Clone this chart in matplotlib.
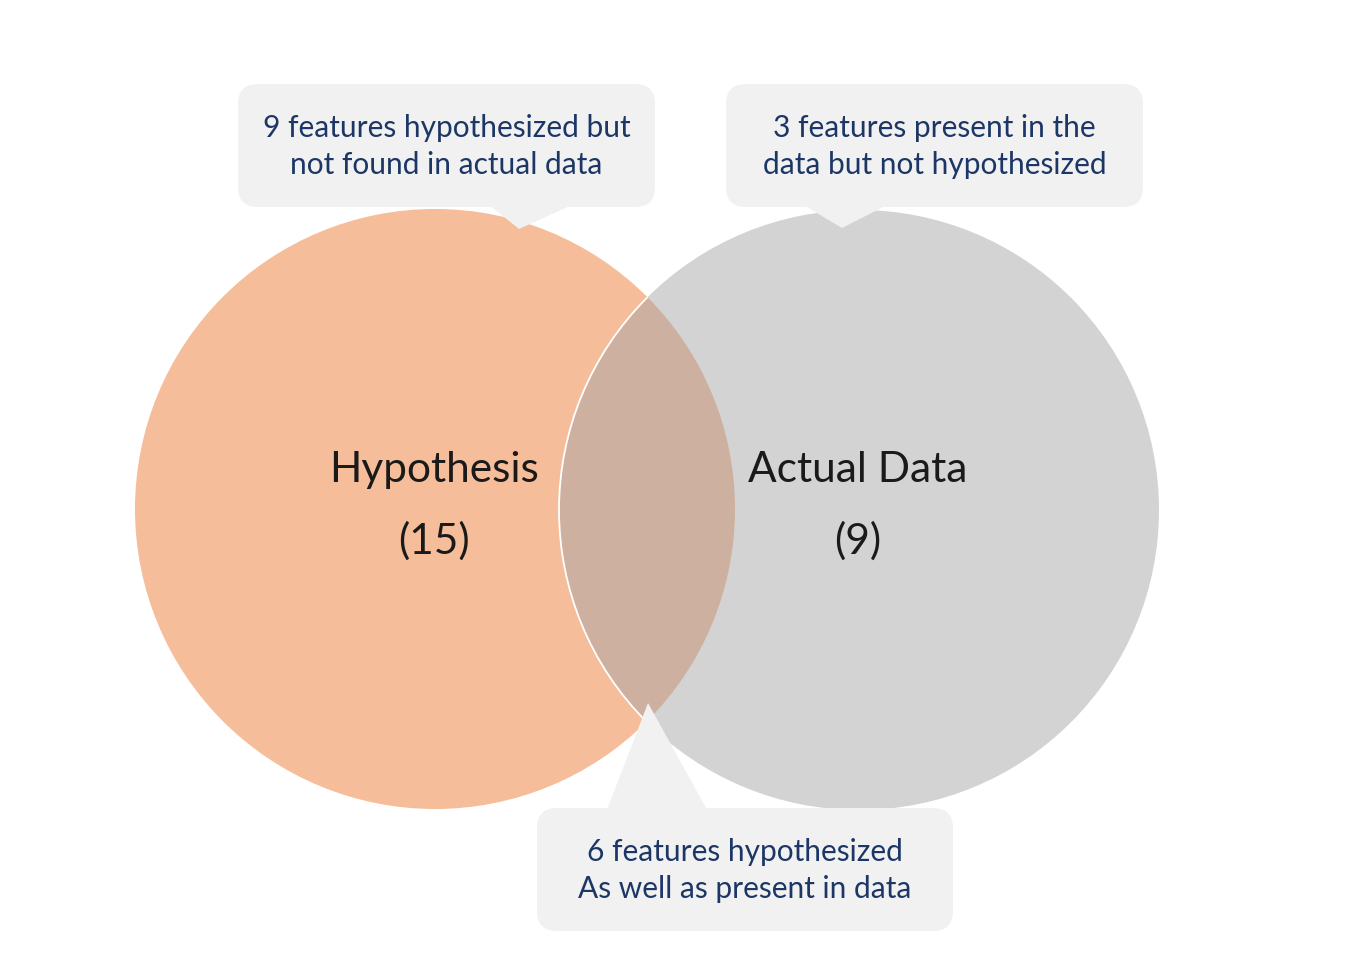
import matplotlib
matplotlib.use("Agg")
import matplotlib.pyplot as plt
from matplotlib.patches import Circle, FancyBboxPatch, Polygon

# venn sets
set_names = ["Hypothesis", "Actual Data"]
set_counts = [15, 9]
set_colors = ["#F5BD99", "#D3D3D3"]
overlap_color = "#CDB0A0"

# callouts: text lines
callout_texts = [
    "9 features hypothesized but\nnot found in actual data",
    "3 features present in the\ndata but not hypothesized",
    "6 features hypothesized\nAs well as present in data",
]

W, H = 1355, 965
fig = plt.figure(figsize=(W / 100, H / 100), dpi=100)
ax = fig.add_axes([0, 0, 1, 1])
ax.set_xlim(0, W)
ax.set_ylim(H, 0)
ax.axis("off")

font = "Lato"
navy = "#1C3666"

# circles (pixel layout)
centers = [(435, 509), (859, 510)]
r = 300

left = Circle(centers[0], r, facecolor=set_colors[0], edgecolor="none", zorder=1)
right = Circle(centers[1], r, facecolor=set_colors[1], edgecolor="none", zorder=2)
ax.add_patch(left)
ax.add_patch(right)

ov = Circle(centers[0], r, facecolor=overlap_color, edgecolor="none", zorder=3)
ax.add_patch(ov)
ov.set_clip_path(right)

# thin white rim of the right circle inside the overlap
rim = Circle(centers[1], r, facecolor="none", edgecolor="white", lw=1.3, zorder=4)
ax.add_patch(rim)
rim.set_clip_path(left)

# set labels
label_pos = [(434, 470), (858, 470)]
for (x, y), name, n in zip(label_pos, set_names, set_counts):
    ax.text(x, y, name, ha="center", va="center", fontsize=30.5,
            family=font, color="#1a1a1a", zorder=6)
    ax.text(x, y + 71, f"({n})", ha="center", va="center", fontsize=30.5,
            family=font, color="#1a1a1a", zorder=6)

# callout boxes: box (x0, y0, x1, y1), pointer triangle
boxes = [(238, 84, 655, 207), (726, 84, 1143, 207), (537, 808, 953, 931)]
pointers = [
    [(483, 200), (583, 200), (519, 229)],
    [(795, 200), (897, 200), (842, 228)],
    [(605, 815), (710, 815), (648, 703)],
]
box_fill = "#F1F1F1"
for (x0, y0, x1, y1), tri, txt in zip(boxes, pointers, callout_texts):
    b = FancyBboxPatch((x0 + 20, y0 + 20), (x1 - x0) - 40, (y1 - y0) - 40,
                       boxstyle="round,pad=20,rounding_size=20",
                       facecolor=box_fill, edgecolor="none", zorder=7)
    ax.add_patch(b)
    ax.add_patch(Polygon(tri, closed=True, facecolor=box_fill,
                         edgecolor="none", zorder=7))
    ax.text((x0 + x1) / 2, (y0 + y1) / 2 + 1, txt, ha="center", va="center",
            fontsize=21.5, family=font, color=navy, linespacing=1.36, zorder=8)

fig.savefig("out.png", dpi=100, facecolor="white")
